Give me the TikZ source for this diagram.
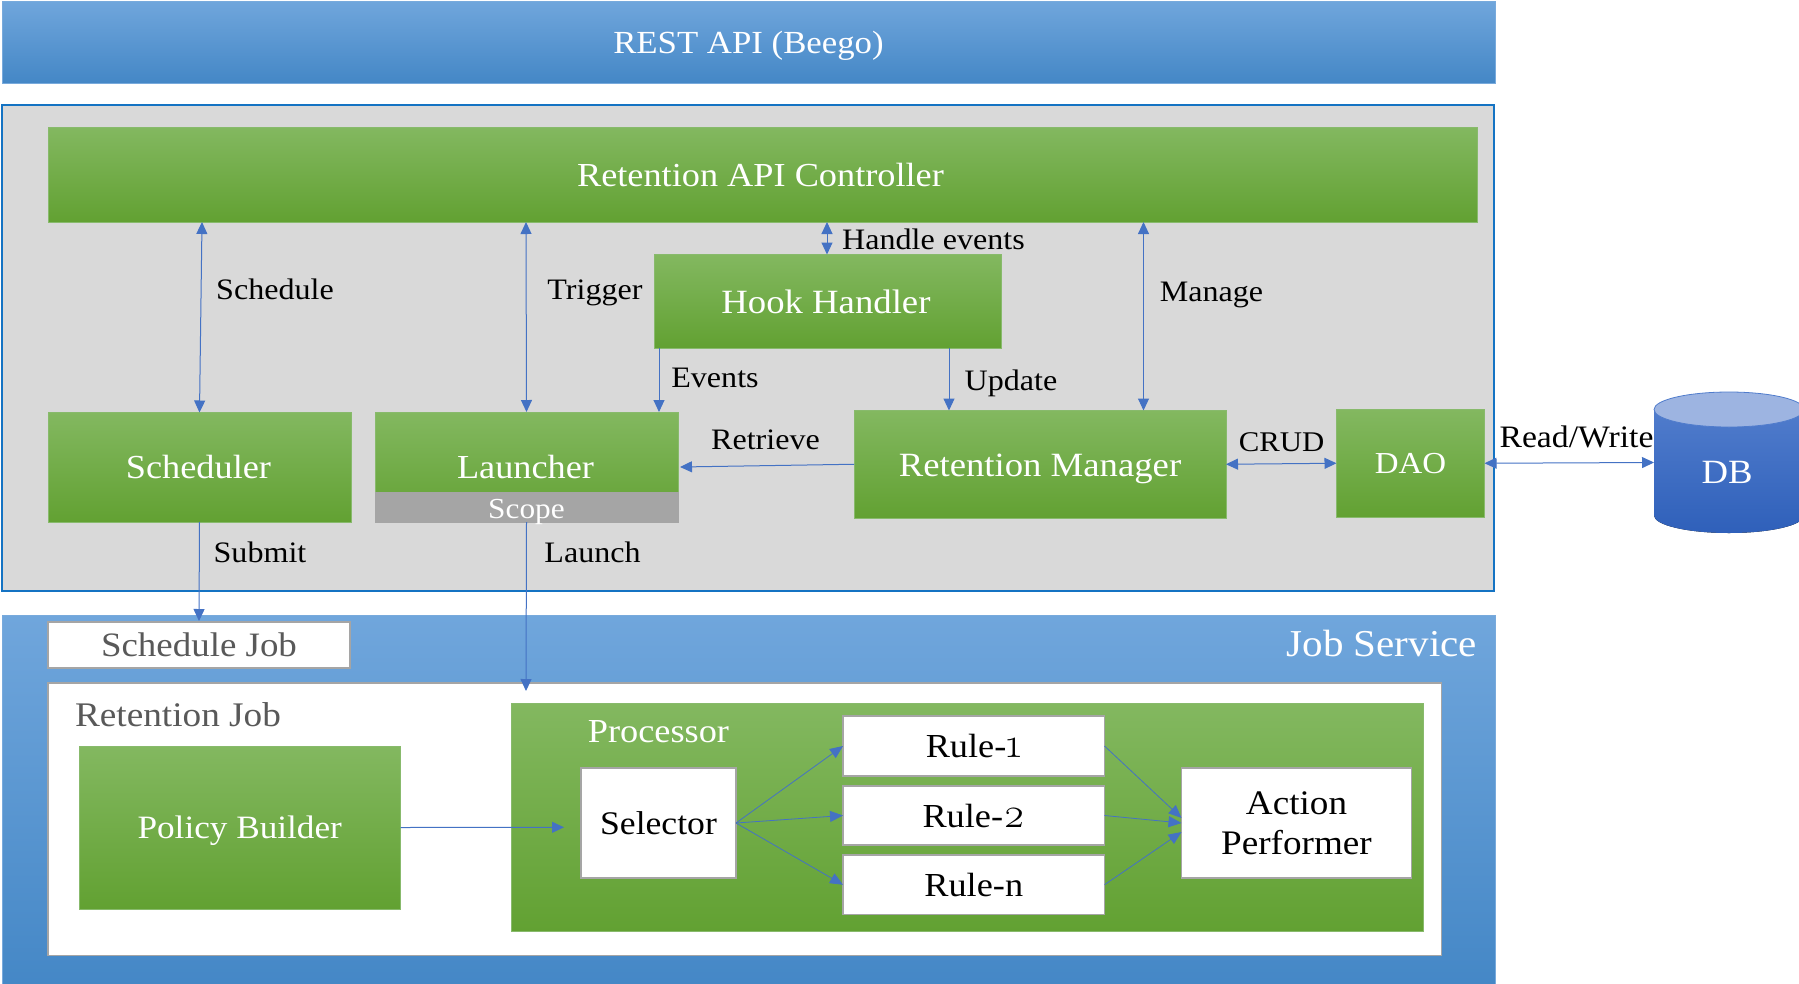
\documentclass[tikz,border=0pt]{standalone}
\usepackage{fontspec}
\setmainfont[FakeStretch=1.08]{Liberation Serif}
\newfontfamily\oldnum[Numbers=OldStyle,Scale=1.25]{Latin Modern Roman}
\usetikzlibrary{arrows.meta}
\definecolor{gt}{RGB}{131,184,96}
\definecolor{gm}{RGB}{112,174,68}
\definecolor{gb}{RGB}{98,161,50}
\definecolor{gedge}{RGB}{136,186,108}
\definecolor{bt}{RGB}{112,166,220}
\definecolor{bm}{RGB}{83,152,220}
\definecolor{bb}{RGB}{68,135,198}
\definecolor{bedge}{RGB}{120,170,220}
\definecolor{frame}{RGB}{20,115,195}
\definecolor{panel}{RGB}{217,217,217}
\definecolor{wire}{RGB}{68,114,196}
\definecolor{greybox}{RGB}{165,165,165}
\definecolor{greytext}{RGB}{89,89,89}
\definecolor{dbt}{RGB}{80,124,204}
\definecolor{dbb}{RGB}{47,96,186}
\definecolor{dbcap}{RGB}{157,180,225}
\tikzset{
  x=1pt,y=-1pt,
  fs/.style={font=\fontsize{#1}{40}\selectfont},
  every node/.style={inner sep=0pt,outer sep=0pt,align=center,text depth=0pt,fs=33.6},
  bluebox/.style={top color=bt,middle color=bm,bottom color=bb,draw=bedge,line width=1pt,text=white},
  greenbox/.style={top color=gt,middle color=gm,bottom color=gb,draw=gedge,line width=1pt,text=white},
  whitebox/.style={fill=white,draw=greybox,line width=1.6pt,text=black},
  framebox/.style={fill=panel,draw=frame,line width=1.8pt},
  scopebox/.style={fill=greybox,draw=greybox,line width=.6pt,text=white,fs=29},
  lab/.style={text=black,fs=29.7},
  conn/.style={draw=wire,line width=1pt,-{Triangle[length=12pt,width=11pt]}},
  bi/.style={draw=wire,line width=1pt,{Triangle[length=12pt,width=11pt]}-{Triangle[length=12pt,width=11pt]}},
  thinconn/.style={draw=wire,line width=.8pt,-{Triangle[length=13pt,width=11pt]}}
}
\newcommand\bx[7]{\node[#6,minimum width={(#4-#2)*1pt},minimum height={(#5-#3)*1pt}] (#1) at ({(#2+#4)/2},{(#3+#5)/2}) {#7};}
\begin{document}
\begin{tikzpicture}
\useasboundingbox (0,0) rectangle (1799,983);
\bx{rest}{2}{1}{1495}{83}{bluebox,fs=32.2}{REST API (Beego)}
\bx{retention}{2}{105}{1494}{591}{framebox}{}
\bx{api}{48}{127}{1477}{222}{greenbox}{\hspace*{-4pt}Retention API Controller}
\bx{hook}{654}{254.5}{1001}{348}{greenbox,fs=34}{\hspace*{-3pt}Hook Handler}
\bx{sched}{48}{412.5}{351}{522}{greenbox}{\hspace*{-2pt}Scheduler}
\bx{launcher}{375}{412}{678}{522}{greenbox}{\hspace*{-2pt}Launcher}
\bx{scope}{375}{492.5}{678}{522}{scopebox}{\raisebox{-2.5pt}{Scope}}
\bx{rm}{854}{410.5}{1226}{518}{greenbox,fs=34}{\raisebox{-1pt}{Retention Manager}}
\bx{dao}{1336.5}{409.5}{1484.5}{517}{greenbox,fs=30.5}{\raisebox{-1pt}{DAO}}
% Job service
\bx{js}{2}{615}{1495}{990}{bluebox}{}
\node[text=white,fs=38,anchor=east] (jslabel) at (1477,643) {Job Service};
\bx{sjob}{48}{622}{350}{668}{whitebox,text=greytext,fs=34.2}{Schedule Job}
\bx{rjob}{48}{683}{1441.5}{955.5}{whitebox}{}
\node[text=greytext,fs=34.5] (rjlabel) at (178,715) {Retention Job};
\bx{pb}{79}{746}{400.5}{909}{greenbox,fs=32.6}{Policy Builder}
\bx{proc}{511}{703}{1423.5}{931}{greenbox}{}
\node[text=white] (proclabel) at (658.5,731) {Processor};
\bx{sel}{581}{768}{736}{878}{whitebox,fs=33}{Selector}
\bx{r1}{843}{716}{1104.5}{776}{whitebox}{Rule-{\oldnum 1}}
\bx{r2}{843}{786}{1104.5}{845}{whitebox}{Rule-{\oldnum 2}}
\bx{rn}{843}{855}{1104.5}{914.5}{whitebox}{\raisebox{-1pt}{Rule-n}}
\bx{act}{1181.5}{768}{1411.5}{878}{whitebox,fs=34.4}{Action\\Performer}
% DB
\node[minimum width=150pt,minimum height=141pt] (db) at (1729,462.5) {};
\fill[top color=dbt,bottom color=dbb] (db.north west |- 0,409.5) -- (db.south west |- 0,515.5) arc[start angle=180,end angle=360,x radius=75pt,y radius=17.5pt] -- (db.north east |- 0,409.5) -- cycle;
\fill[dbcap,draw=dbt,line width=.8pt] (1729,409.5) ellipse [x radius=75pt,y radius=17.5pt];
\node[text=white,fs=34] (dblabel) at (1727,472) {DB};
% free ends
\coordinate (launchend) at (526,691);
\coordinate (pbend) at (564,827.3);
% connectors
\draw[bi] ([xshift=154pt]api.south west) -- (sched.north);
\draw[bi] ([xshift=478pt]api.south west) -- (launcher.north);
\draw[bi] ([xshift=779pt]api.south west) -- ([xshift=173pt]hook.north west);
\draw[bi] ([xshift=1095.5pt]api.south west) -- ([xshift=289.5pt]rm.north west);
\draw[conn] ([xshift=5pt]hook.south west) -- ([xshift=284pt]launcher.north west);
\draw[conn] ([xshift=-52pt]hook.south east) -- ([xshift=95pt]rm.north west);
\draw[conn] (rm.west) -- ([xshift=2pt]launcher.east);
\draw[bi] (rm.east) -- (dao.west);
\draw[bi] (dao.east) -- (db.west);
\draw[conn] (sched.south) -- ([yshift=1pt]sjob.north);
\draw[conn] (scope.south) -- (launchend);
\draw[conn] (pb.east) -- (pbend);
\draw[thinconn] (sel.east) -- (r1.west);
\draw[thinconn] (sel.east) -- (r2.west);
\draw[thinconn] (sel.east) -- (rn.west);
\draw[thinconn] (r1.east) -- ([yshift=5pt]act.west);
\draw[thinconn] (r2.east) -- (act.west);
\draw[thinconn] (rn.east) -- ([yshift=-9pt]act.west);
% labels
\node[lab] (l1) at (275,289) {Schedule};
\node[lab] (l2) at (595,290) {Trigger};
\node[lab] (l3) at (933.5,239) {Handle events};
\node[lab] (l4) at (715,377.5) {Events};
\node[lab] (l5) at (1011,380) {Update};
\node[lab] (l6) at (1211.5,292) {Manage};
\node[lab] (l7) at (765.5,439.5) {Retrieve};
\node[lab,fs=28.5] (l8) at (1281.5,442.5) {CRUD};
\node[lab,fs=31.2] (l9) at (1576.5,436.5) {Read/Write};
\node[lab] (l10) at (260,552.5) {Submit};
\node[lab] (l11) at (592.5,552.5) {Launch};
\end{tikzpicture}
\end{document}
